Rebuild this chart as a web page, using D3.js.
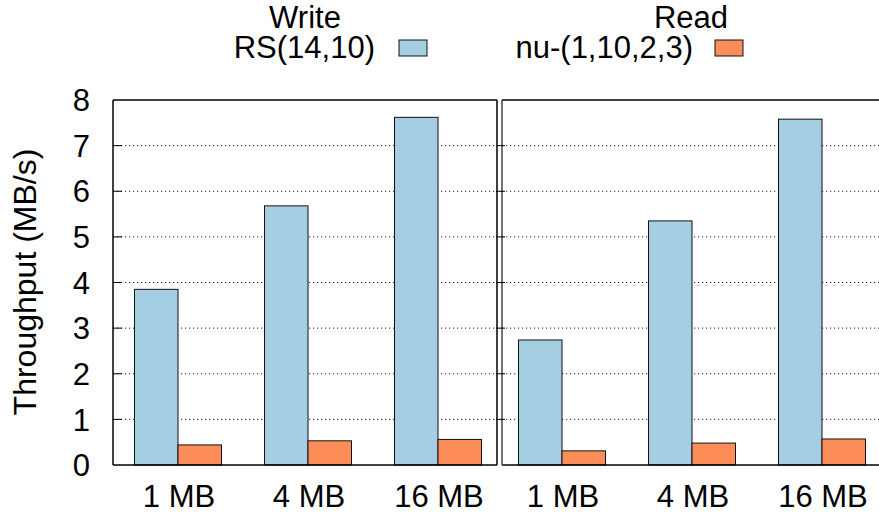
<!DOCTYPE html>
<html>
<head>
<meta charset="utf-8">
<script src="https://cdn.jsdelivr.net/npm/d3@7"></script>
<style>
  body { margin: 0; background: #fff; }
  svg text { font-family: "Liberation Sans", Arial, Helvetica, sans-serif; fill: #000; }
</style>
</head>
<body>
<div id="chart"></div>
<script>
const WIDTH = 879;
const HEIGHT = 513;
const FONT = 31;

// --------------- Data ---------------
const sizes = ["1 MB", "4 MB", "16 MB"];
const operations = ["Write", "Read"];
const seriesNames = ["RS(14,10)", "nu-(1,10,2,3)"];
const seriesColors = ["#a6cee3", "#fc8d59"];
const rsWrite = [3.85, 5.68, 7.62];
const nuWrite = [0.44, 0.53, 0.56];
const rsRead = [2.74, 5.35, 7.58];
const nuRead = [0.31, 0.48, 0.57];
const yTicks = [0, 1, 2, 3, 4, 5, 6, 7, 8];

// each panel: one operation, two series
const panels = [
  { op: operations[0], values: [rsWrite, nuWrite], left: 113, right: 497, first: 178, last: 438 },
  { op: operations[1], values: [rsRead, nuRead], left: 502, right: 886, first: 562, last: 822 }
];
const BAR_W = 43.5;

const svg = d3.select("#chart")
  .append("svg")
  .attr("width", WIDTH)
  .attr("height", HEIGHT);

const y = d3.scaleLinear().domain([0, 8]).range([465, 100]);

// --------------- Panels ---------------
panels.forEach(function (p, pi) {
  const x = d3.scaleLinear().domain([0, sizes.length - 1]).range([p.first, p.last]);
  const g = svg.append("g");

  // dotted grid
  g.selectAll(".grid")
    .data(yTicks.slice(1, -1))
    .enter()
    .append("line")
    .attr("x1", p.left)
    .attr("x2", Math.min(p.right, WIDTH))
    .attr("y1", d => y(d))
    .attr("y2", d => y(d))
    .attr("stroke", "#222")
    .attr("stroke-width", 1)
    .attr("stroke-dasharray", "1.2,2.8");

  // bars
  p.values.forEach(function (vals, si) {
    g.selectAll(".bar" + si)
      .data(vals)
      .enter()
      .append("rect")
      .attr("x", (d, i) => x(i) - BAR_W + si * BAR_W)
      .attr("y", d => y(d))
      .attr("width", BAR_W)
      .attr("height", d => y(0) - y(d))
      .attr("fill", seriesColors[si])
      .attr("stroke", "#111")
      .attr("stroke-width", 1);
  });

  // x labels
  g.selectAll(".xlab")
    .data(sizes)
    .enter()
    .append("text")
    .attr("x", (d, i) => x(i) + 1)
    .attr("y", 507)
    .attr("text-anchor", "middle")
    .attr("font-size", FONT)
    .text(d => d);

  // border
  g.append("line").attr("x1", p.left).attr("x2", p.right).attr("y1", y(8)).attr("y2", y(8))
    .attr("stroke", "#000").attr("stroke-width", 1.5);
  g.append("line").attr("x1", p.left).attr("x2", p.right).attr("y1", y(0)).attr("y2", y(0))
    .attr("stroke", "#000").attr("stroke-width", 1.5);
  g.append("line").attr("x1", p.left).attr("x2", p.left).attr("y1", y(8)).attr("y2", y(0))
    .attr("stroke", pi === 0 ? "#000" : "#444").attr("stroke-width", 1.5);
  g.append("line").attr("x1", p.right).attr("x2", p.right).attr("y1", y(8)).attr("y2", y(0))
    .attr("stroke", "#000").attr("stroke-width", 1.5);

  // ticks on the left border of each panel
  g.selectAll(".tick")
    .data(yTicks.slice(1, -1))
    .enter()
    .append("line")
    .attr("x1", pi === 0 ? p.left : p.left - 6)
    .attr("x2", pi === 0 ? p.left + 9 : p.left + 3)
    .attr("y1", d => y(d))
    .attr("y2", d => y(d))
    .attr("stroke", "#000")
    .attr("stroke-width", 1);
});

// --------------- Y axis labels ---------------
svg.append("g")
  .selectAll("text")
  .data(yTicks)
  .enter()
  .append("text")
  .attr("x", 90)
  .attr("y", d => y(d))
  .attr("dy", "0.36em")
  .attr("text-anchor", "end")
  .attr("font-size", FONT)
  .text(d => d);

svg.append("text")
  .attr("transform", "translate(36,282) rotate(-90)")
  .attr("text-anchor", "middle")
  .attr("font-size", 32)
  .text("Throughput (MB/s)");

// --------------- Legend ---------------
const legend = [
  { title: operations[0], titleX: 305, textRight: 375, swatchX: 399 },
  { title: operations[1], titleX: 691, textRight: 693, swatchX: 715 }
];

legend.forEach(function (l, i) {
  svg.append("text")
    .attr("x", l.titleX)
    .attr("y", 28)
    .attr("text-anchor", "middle")
    .attr("font-size", FONT)
    .text(l.title);
  svg.append("text")
    .attr("x", l.textRight)
    .attr("y", 58)
    .attr("text-anchor", "end")
    .attr("font-size", FONT)
    .text(seriesNames[i]);
  svg.append("rect")
    .attr("x", l.swatchX)
    .attr("y", 40)
    .attr("width", 28)
    .attr("height", 16)
    .attr("fill", seriesColors[i])
    .attr("stroke", "#111")
    .attr("stroke-width", 1);
});
</script>
</body>
</html>
